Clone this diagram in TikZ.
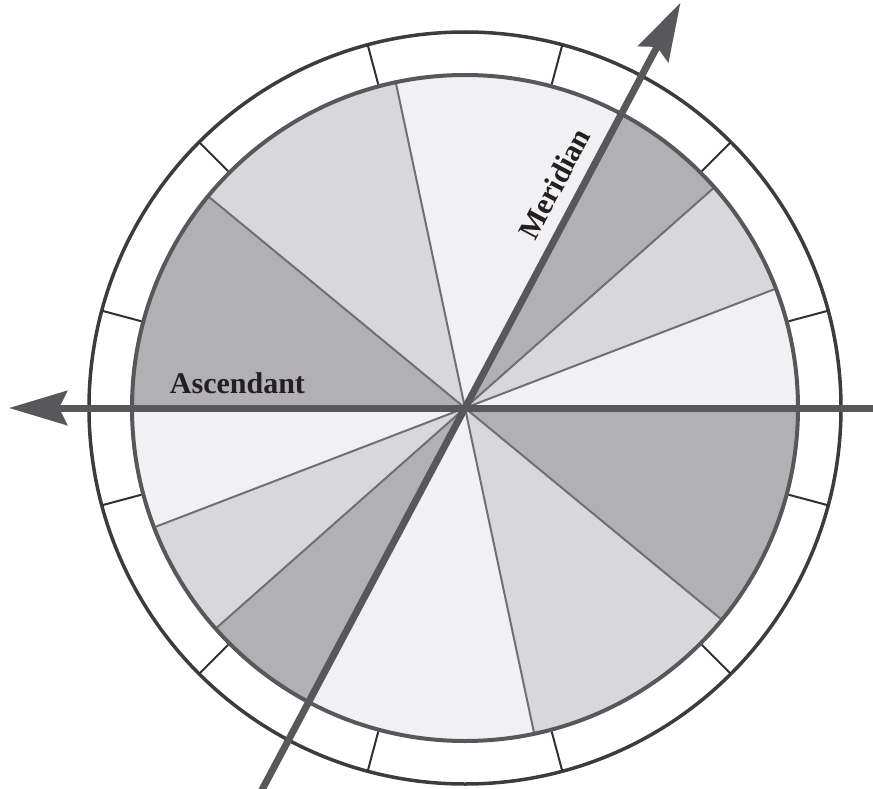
\documentclass[tikz,border=0pt]{standalone}
\usepackage{fontspec}
\setmainfont{Liberation Serif}
\usetikzlibrary{arrows.meta}
\definecolor{secA}{HTML}{B1B1B4}
\definecolor{secB}{HTML}{D8D8DA}
\definecolor{secC}{HTML}{F1F1F3}
\definecolor{axiscol}{HTML}{58585B}
\definecolor{ringcol}{HTML}{3C3C3C}
\definecolor{cuspcol}{HTML}{707072}
\definecolor{txtcol}{HTML}{231F20}
\begin{document}
\begin{tikzpicture}[x=1pt,y=1pt,
  cuspline/.style={draw=cuspcol, line width=2pt},
  tickline/.style={draw=ringcol!80!black, line width=2pt},
  axisline/.style={draw=axiscol, line width=7pt},
  axisarrow/.style={-{Stealth[length=58pt,width=34pt,inset=8pt]}, axiscol},
  lbl/.style={font=\bfseries\fontsize{30}{30}\selectfont, text=txtcol, anchor=base}]
\useasboundingbox (-465,-380) rectangle (408,408);
\def\Ri{333}
\def\Ro{376}
\coordinate (O) at (0,0);
% house sectors
\foreach \a/\b/\c in {180/140.5/secA, 140.5/102/secB, 102/62/secC, 62/41.5/secA, 41.5/21/secB, 21/0/secC, 0/-39.5/secA, -39.5/-78/secB, -78/-118/secC, -118/-138.5/secA, -138.5/-159/secB, -159/-180/secC}
  \fill[\c] (O) -- (\a:\Ri) arc[start angle=\a, end angle=\b, radius=\Ri] -- cycle;
% cusp lines
\foreach \a in {21,41.5,102,140.5,201,221.5,282,320.5}
  \draw[cuspline] (O) -- (\a:\Ri);
% inner and outer circles
\draw[draw=axiscol, line width=4pt] (O) circle[radius=\Ri];
\draw[draw=ringcol, line width=3.5pt] (O) circle[radius=\Ro];
% zodiac ticks
\foreach \k in {0,...,11}
  \draw[tickline] ({15+30*\k}:\Ri+2) -- ({15+30*\k}:\Ro);
% axes
\coordinate (descE) at (0:412);
\coordinate (ascE) at (180:456);
\coordinate (icE) at (242:440);
\coordinate (mcE) at (62:459);
\draw[axisline, axisarrow] (descE) -- (ascE);
\draw[axisline, axisarrow] (icE) -- (mcE);
% labels
\node[lbl] (asc) at (-227.5,15) {Ascendant};
\node[lbl, rotate=62] (mer) at (98.6,219.4) {Meridian};
\end{tikzpicture}
\end{document}
